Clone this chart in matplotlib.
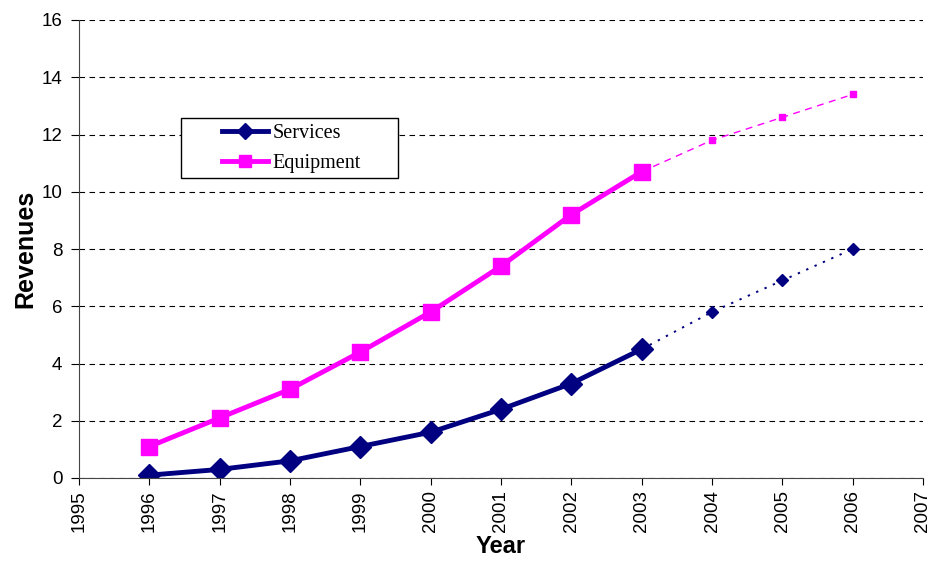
import matplotlib.pyplot as plt
from matplotlib.patches import Rectangle

# actual values
years = [1996, 1997, 1998, 1999, 2000, 2001, 2002, 2003]
services = [0.1, 0.3, 0.6, 1.1, 1.6, 2.4, 3.3, 4.5]
equipment = [1.1, 2.1, 3.1, 4.4, 5.8, 7.4, 9.2, 10.7]

# projections (start from the last actual point)
proj_years = [2003, 2004, 2005, 2006]
services_proj = [4.5, 5.8, 6.9, 8.0]
equipment_proj = [10.7, 11.8, 12.6, 13.4]

navy = "#000080"
magenta = "#ff00ff"

plt.rcParams["font.family"] = "Liberation Sans"

W, H = 931, 562
fig = plt.figure(figsize=(W / 100, H / 100), dpi=100)
ax = fig.add_axes([79 / W, 1 - 478 / H, 844 / W, 458 / H])

ax.plot(years, services, color=navy, lw=3.5, marker="D", ms=11, label="Services")
ax.plot(years, equipment, color=magenta, lw=3.5, marker="s", ms=12, label="Equipment")

ax.plot(proj_years[1:], services_proj[1:], ls="none", marker="D", ms=6.5, color=navy)
ax.plot(proj_years, services_proj, color=navy, lw=1.4, ls=(0, (1.2, 3.5)))
ax.plot(proj_years[1:], equipment_proj[1:], ls="none", marker="s", ms=4.5, color=magenta)
ax.plot(proj_years, equipment_proj, color=magenta, lw=1, ls=(0, (5, 4)))

ax.set_xlim(1995, 2007)
ax.set_ylim(0, 16)
ax.set_xticks(range(1995, 2008))
ax.set_yticks(range(0, 17, 2))
ax.tick_params(axis="x", labelrotation=90, labelsize=13.5, direction="out", length=5, pad=4)
ax.tick_params(axis="y", labelsize=13.5, direction="out", length=6, pad=6)

ax.grid(axis="y", color="black", ls=(0, (5, 4)), lw=0.8)
ax.set_axisbelow(True)
ax.spines["top"].set_visible(False)
ax.spines["right"].set_visible(False)
ax.spines["left"].set_color("#444444")
ax.spines["bottom"].set_color("#444444")

ax.set_xlabel("Year", fontsize=17, fontweight="bold", labelpad=2)
ax.set_ylabel("Revenues", fontsize=18, fontweight="bold", labelpad=3)

# legend frame drawn separately, the box is wider than Matplotlib's padding
fig.patches.append(Rectangle((181 / W, 1 - 178 / H), 217 / W, 60 / H,
                             transform=fig.transFigure, facecolor="white",
                             edgecolor="black", lw=1, zorder=5))
leg = fig.legend(
    *ax.get_legend_handles_labels(),
    loc="upper left",
    bbox_to_anchor=(222 / W, 1 - 124 / H),
    prop={"family": "Liberation Serif", "size": 14.5},
    frameon=False,
    borderpad=0,
    borderaxespad=0,
    handlelength=2.3,
    handletextpad=0.2,
    labelspacing=0.55,
    markerscale=0.72,
)
leg.set_zorder(6)

fig.savefig("out.png", dpi=100)
